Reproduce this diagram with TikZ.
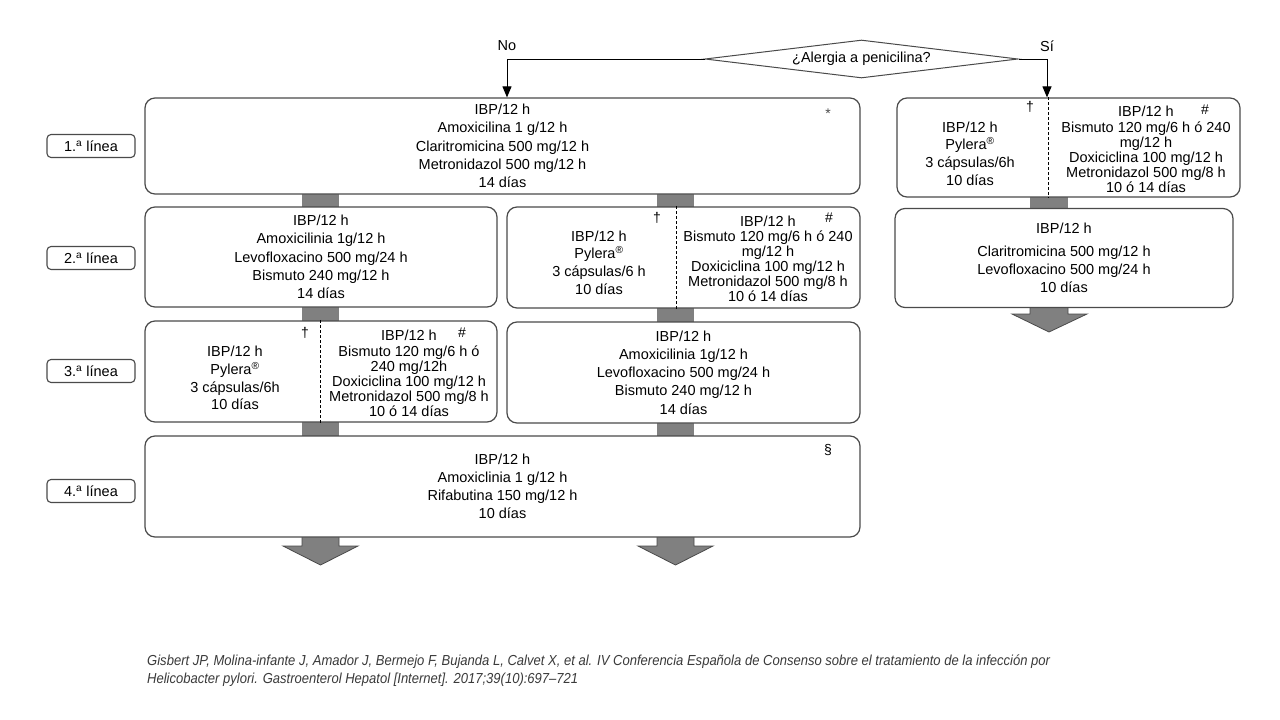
\documentclass[tikz,border=0pt]{standalone}
\usepackage{fontspec}
\usepackage{graphicx}
\setmainfont{Liberation Sans}
\usetikzlibrary{arrows.meta,shapes.geometric}
\definecolor{edgec}{HTML}{4A4A4A}
\definecolor{barc}{HTML}{808080}
\definecolor{citec}{HTML}{3A3A3A}
\begin{document}
\begin{tikzpicture}[x=1pt,y=-1pt,
  box/.style={draw=edgec, line width=1.2pt, rounded corners=10pt, fill=white, inner sep=0pt, align=center, font=\fontsize{14.5}{18.2}\selectfont},
  lbl/.style={draw=edgec, line width=1.1pt, rounded corners=4pt, minimum width=88pt, minimum height=23pt, inner sep=0pt, font=\fontsize{14.5}{17}\selectfont},
  txt/.style={inner sep=0pt, align=center, font=\fontsize{14.5}{17.7}\selectfont},
  tight/.style={inner sep=0pt, align=center, font=\fontsize{14.5}{15.1}\selectfont},
  fnmark/.style={inner sep=0pt, font=\fontsize{14}{14}\selectfont},
  arr/.style={line width=1pt, -{Triangle[width=9pt,length=11pt]}},
  divider/.style={line width=0.9pt, dash pattern=on 3pt off 2pt},
  blockarr/.style={fill=barc, draw=edgec, line width=0.8pt},
]
\useasboundingbox (0,0) rectangle (1280,720);
\fill[white] (0,0) rectangle (1280,720);

% gray connector bars
\fill[barc] (302,192) rectangle (339,210);
\fill[barc] (657,192) rectangle (694,210);
\fill[barc] (302,305) rectangle (339,324);
\fill[barc] (657,305) rectangle (694,325);
\fill[barc] (302,420) rectangle (339,439);
\fill[barc] (657,421) rectangle (694,439);
\fill[barc] (1030,195) rectangle (1068,210);

% block arrows
\draw[blockarr] (302,535) -- (302,546) -- (283,546) -- (320.5,565) -- (358,546) -- (339,546) -- (339,535) -- cycle;
\draw[blockarr] (657,535) -- (657,546) -- (638,546) -- (675.5,565) -- (713,546) -- (694,546) -- (694,535) -- cycle;
\draw[blockarr] (1030,304) -- (1030,314) -- (1012,314) -- (1049,332) -- (1087,314) -- (1068,314) -- (1068,304) -- cycle;

% diamond
\node[diamond, draw=edgec, line width=1pt, aspect=8, inner sep=0pt, minimum width=313pt, minimum height=38pt, font=\fontsize{14.5}{17}\selectfont] (dia) at (861.5,59) {¿Alergia a penicilina?};
\node[txt] (no) at (507,46) {No};
\node[txt] (si) at (1047,46) {Sí};

% main boxes
\node[box, minimum width=715pt, minimum height=96pt] (b1) at (502.5,146) {IBP/12 h\\Amoxicilina 1 g/12 h\\Claritromicina 500 mg/12 h\\Metronidazol 500 mg/12 h\\14 días};
\node[box, minimum width=352pt, minimum height=100pt] (b2l) at (321,257) {IBP/12 h\\Amoxicilinia 1g/12 h\\Levofloxacino 500 mg/24 h\\Bismuto 240 mg/12 h\\14 días};
\node[box, minimum width=353pt, minimum height=101pt] (b2r) at (683.5,257.5) {};
\node[box, minimum width=352pt, minimum height=101pt] (b3l) at (321,371.5) {};
\node[box, minimum width=353pt, minimum height=101pt] (b3r) at (683.5,372.5) {IBP/12 h\\Amoxicilinia 1g/12 h\\Levofloxacino 500 mg/24 h\\Bismuto 240 mg/12 h\\14 días};
\node[box, minimum width=715pt, minimum height=101pt] (b4) at (502.5,486.5) {IBP/12 h\\Amoxiclinia 1 g/12 h\\Rifabutina 150 mg/12 h\\10 días};
\node[box, minimum width=343pt, minimum height=99pt] (r1) at (1068.5,147.5) {};
\node[box, minimum width=338pt, minimum height=99pt] (r2) at (1064,258) {IBP/12 h\\[4pt]Claritromicina 500 mg/12 h\\Levofloxacino 500 mg/24 h\\10 días};

% dividers
\draw[divider] (676,0 |- b2r.north) -- (676,0 |- b2r.south);
\draw[divider] (320,0 |- b3l.north) -- (320,0 |- b3l.south);
\draw[divider] (1048,0 |- r1.north) -- (1048,0 |- r1.south);

% split-box texts
\node[txt] (b2ra) at (599,262.5) {IBP/12 h\\Pylera\textsuperscript{\textregistered}\\3 cápsulas/6 h\\10 días};
\node[tight] (b2rb) at (768,259) {IBP/12 h\\Bismuto 120 mg/6 h ó 240\\mg/12 h\\Doxiciclina 100 mg/12 h\\Metronidazol 500 mg/8 h\\10 ó 14 días};
\node[txt] (b3la) at (235,378) {IBP/12 h\\Pylera\textsuperscript{\textregistered}\\3 cápsulas/6h\\10 días};
\node[tight] (b3lb) at (409,373.5) {IBP/12 h\\Bismuto 120 mg/6 h ó\\240 mg/12h\\Doxiciclina 100 mg/12 h\\Metronidazol 500 mg/8 h\\10 ó 14 días};
\node[txt] (r1a) at (970,153.5) {IBP/12 h\\Pylera\textsuperscript{\textregistered}\\3 cápsulas/6h\\10 días};
\node[tight] (r1b) at (1146,149.5) {IBP/12 h\\Bismuto 120 mg/6 h ó 240\\mg/12 h\\Doxiciclina 100 mg/12 h\\Metronidazol 500 mg/8 h\\10 ó 14 días};

% footnote marks
\node[fnmark] (m1) at (828,114) {\textcolor{edgec}{*}};
\node[fnmark] (m2) at (657,218) {†};
\node[fnmark] (m3) at (829,218) {\#};
\node[fnmark] (m4) at (305,333) {†};
\node[fnmark] (m5) at (462,333) {\#};
\node[fnmark] (m6) at (828,450) {§};
\node[fnmark] (m7) at (1030,107) {†};
\node[fnmark] (m8) at (1205,110) {\#};

% line labels
\node[lbl] (l1) at (91,146) {1.\textsuperscript{a} línea};
\node[lbl] (l2) at (91,258) {2.\textsuperscript{a} línea};
\node[lbl] (l3) at (91,371) {3.\textsuperscript{a} línea};
\node[lbl] (l4) at (91,491) {4.\textsuperscript{a} línea};

% decision arrows
\draw[arr] (dia.west) -| (507,0 |- b1.north);
\draw[arr] (dia.east) -| (1047,0 |- r1.north);

% citation
\node[anchor=west, inner sep=0pt, text=citec, font=\fontsize{14.5}{18}\selectfont\itshape] (c1) at (147,662) {\resizebox{903pt}{\height}{Gisbert JP, Molina-infante J, Amador J, Bermejo F, Bujanda L, Calvet X, et al. IV Conferencia Española de Consenso sobre el tratamiento de la infección por}};
\node[anchor=west, inner sep=0pt, text=citec, font=\fontsize{14.5}{18}\selectfont\itshape] (c2) at (147,680) {\resizebox{431pt}{\height}{Helicobacter pylori. Gastroenterol Hepatol [Internet]. 2017;39(10):697–721}};
\end{tikzpicture}
\end{document}
